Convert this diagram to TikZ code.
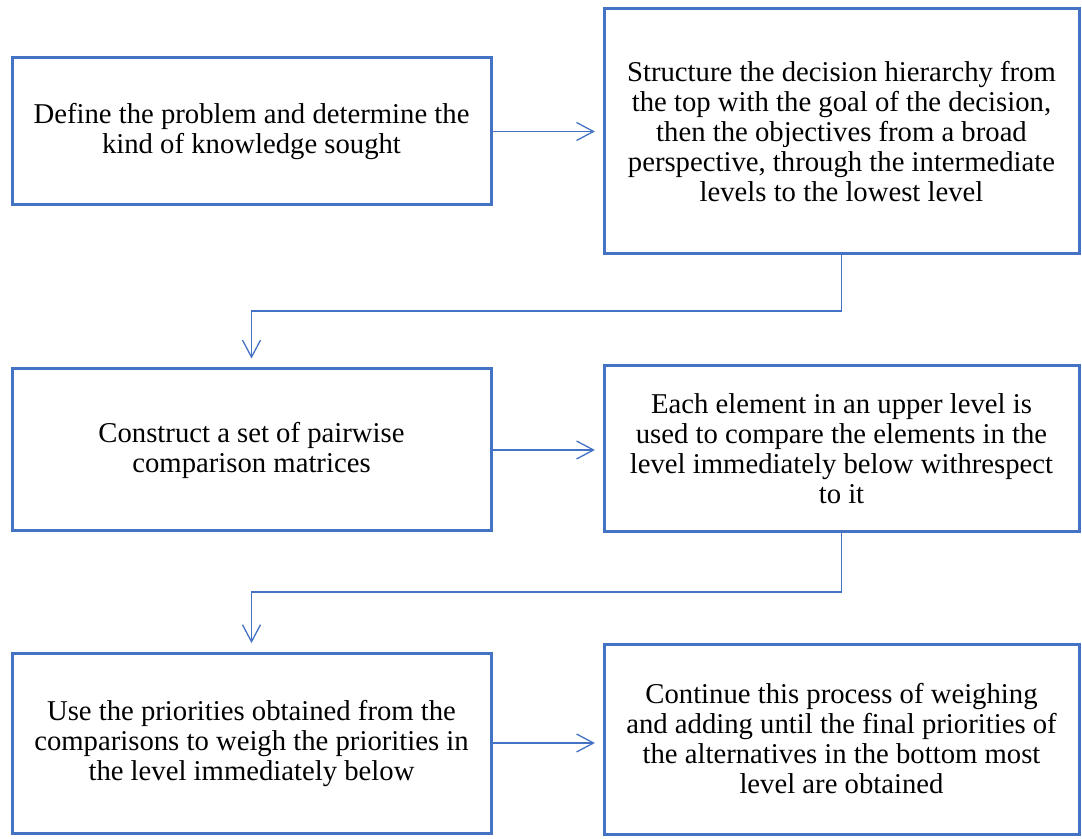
\documentclass[tikz,border=0pt]{standalone}
\usepackage{fontspec}
\setmainfont{Liberation Serif}
\usetikzlibrary{arrows.meta}
\definecolor{boxblue}{HTML}{4472C4}
\begin{document}
\begin{tikzpicture}[x=0.5pt,y=-0.5pt,
  stepbox/.style={draw=boxblue,line width=1.5pt,rectangle,align=center,
    inner sep=0pt,font=\fontsize{14.35pt}{15pt}\selectfont},
  conn/.style={draw=boxblue,line width=0.65pt,
    -{Straight Barb[length=8.5pt,width=9pt]},shorten >=3.8pt}]
\useasboundingbox (0,0) rectangle (1082,839);

% left column
\node[stepbox,minimum width=239.5pt,minimum height=73.5pt] (b1) at (251.5,131.5)
  {Define the problem and determine the\\kind of knowledge sought};
\node[stepbox,minimum width=239.5pt,minimum height=81pt] (b3) at (251.5,450)
  {Construct a set of pairwise\\comparison matrices};
\node[stepbox,minimum width=239.5pt,minimum height=90pt] (b5) at (251.5,743)
  {Use the priorities obtained from the\\comparisons to weigh the priorities in\\the level immediately below};

% right column
\node[stepbox,minimum width=237.5pt,minimum height=122.5pt] (b2) at (841.5,131.5)
  {Structure the decision hierarchy from\\the top with the goal of the decision,\\then the objectives from a broad\\perspective, through the intermediate\\levels to the lowest level};
\node[stepbox,minimum width=237.5pt,minimum height=83pt] (b4) at (841.5,449)
  {Each element in an upper level is\\used to compare the elements in the\\level immediately below withrespect\\to it};
\node[stepbox,minimum width=237.5pt,minimum height=95pt] (b6) at (841.5,739)
  {Continue this process of weighing\\and adding until the final priorities of\\the alternatives in the bottom most\\level are obtained};

% bend levels of the elbow connectors
\coordinate (k1) at (0,311);
\coordinate (k2) at (0,592);

% horizontal steps
\draw[conn] (b1.east) -- (b2.west |- b1.east);
\draw[conn] (b3.east) -- (b4.west |- b3.east);
\draw[conn] (b5.east) -- (b6.west |- b5.east);

% elbow connectors down to the next row
\draw[conn,shorten >=4.5pt] (b2.south) -- (b2.south |- k1) -| (b3.north);
\draw[conn,shorten >=4.2pt] (b4.south) -- (b4.south |- k2) -| (b5.north);
\end{tikzpicture}
\end{document}
